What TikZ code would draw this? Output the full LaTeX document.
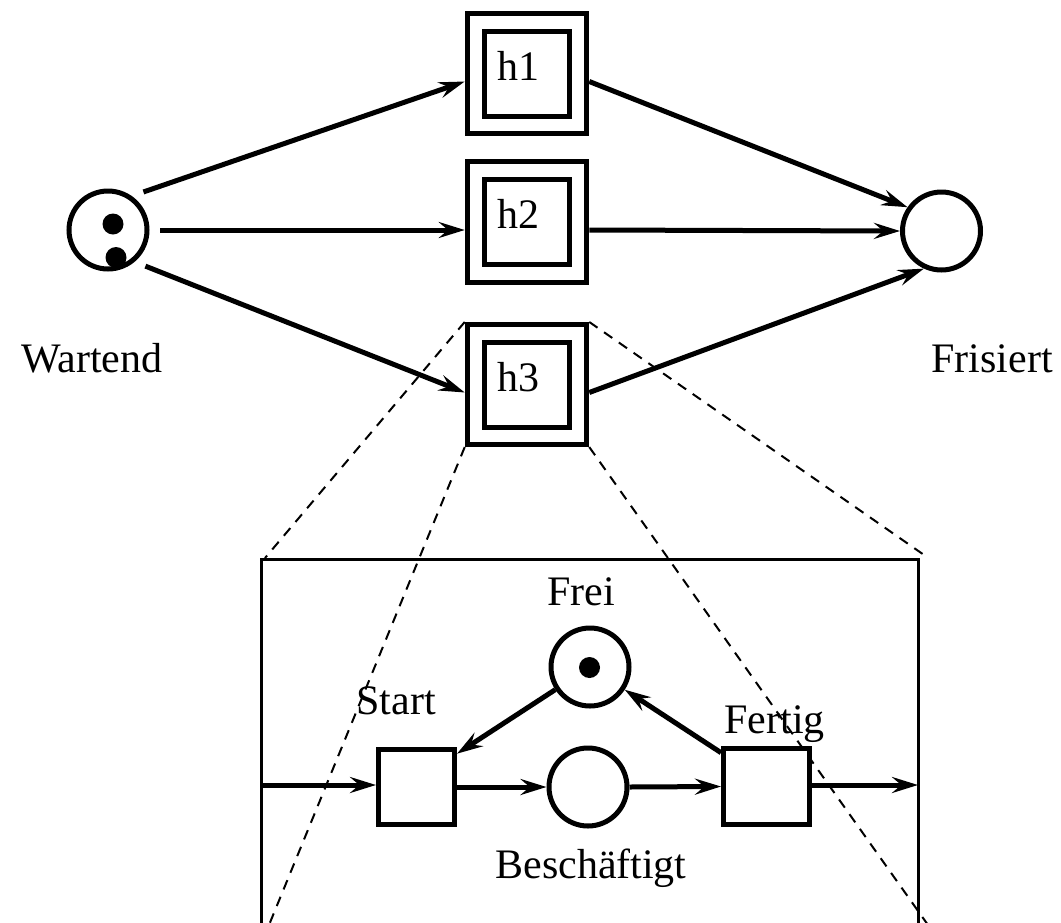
\documentclass[tikz,border=0pt]{standalone}
\usepackage{fontspec}
\setmainfont{Liberation Serif}
\usetikzlibrary{arrows.meta}

\begin{document}
\begin{tikzpicture}[x=0.75pt,y=0.75pt,yscale=-1,xscale=1,
  every node/.style={font=\fontsize{31.5}{36}\selectfont},
  place/.style={draw,circle,line width=3.75pt,inner sep=0pt,minimum size=58.5pt},
  trans/.style={draw,rectangle,line width=3.75pt,inner sep=0pt},
  hbox/.style={draw,rectangle,line width=3.75pt,double,double distance=9.4pt,
    inner xsep=15.75pt,inner ysep=0pt,text width=45pt,align=left,
    text height=43.5pt,text depth=33.4pt,outer sep=8.45pt},
  arc/.style={line width=3.75pt,-{Stealth[length=19.5pt,width=12pt,inset=7pt]}},
  zoomline/.style={line width=1.5pt,dash pattern=on 7.5pt off 6pt}]
\useasboundingbox (0,0) rectangle (1061,922);

%Places and transitions of the top net
\node [place,outer sep=9.75pt] (W) at (108,230) {};
\fill (113,224) circle (10.5);
\fill (116,257.5) circle (10.5);
\node [place] (F) at (941.5,231) {};
\node [hbox] (h1) at (527,73.5) {h1};
\node [hbox] (h2) at (527,222) {h2};
\node [hbox] (h3) at (527,384.5) {h3};

% Text Node
\node [anchor=base] (wlab) at (92,372) {Wartend};
% Text Node
\node [anchor=base] (flab) at (992,372) {Frisiert};

%Arcs of the top net
\draw [arc] (W.47) -- ([yshift=6pt]h1.west);
\draw [arc] (W.0) -- ([yshift=6pt]h2.west);
\draw [arc] (W.-44) -- ([yshift=6pt]h3.west);
\draw [arc] ([yshift=6pt]h1.east) -- (F.145);
\draw [arc] ([yshift=6pt]h2.east) -- (F.180);
\draw [arc] ([yshift=6pt]h3.east) -- (F.245);

%Refinement of h3
\coordinate (zTL) at (265,558);
\coordinate (zTR) at (927,557);
\coordinate (zBL) at (269,925);
\coordinate (zBR) at (928,925);
\draw [line width=2.25pt] (261.5,925) -- (261.5,559.5) -- (918,559.5) -- (918,925);
\draw [zoomline] (h3.north west) -- (zTL);
\draw [zoomline] (h3.south west) -- (zBL);
\draw [zoomline] (h3.north east) -- (zTR);
\draw [zoomline] (h3.south east) -- (zBR);

\node [trans,minimum width=57pt,minimum height=56.25pt] (Start) at (416.5,787) {};
\node [place] (Frei) at (590,667) {};
\fill (589.5,667.5) circle (10.5);
\node [place] (Besch) at (588,787) {};
\node [trans,minimum width=64.5pt,minimum height=57pt] (Fertig) at (766.5,786.5) {};
\coordinate (in) at (261.5,785);
\coordinate (out) at (918,785);

% Text Node
\node [anchor=base] (freilab) at (581,605) {Frei};
% Text Node
\node [anchor=base] (startlab) at (396,714) {Start};
% Text Node
\node [anchor=base] (fertiglab) at (774.5,733) {Fertig};
% Text Node
\node [anchor=base] (beschlab) at (591,878) {Beschäftigt};

\draw [arc] (in) -- (in -| Start.west);
\draw [arc] (Start.east) -- (Besch.west);
\draw [arc] (Besch.east) -- (Fertig.west);
\draw [arc] (Fertig.east |- out) -- (out);
\draw [arc] (Frei) -- ([yshift=5pt]Start.north east);
\draw [arc] ([yshift=5pt]Fertig.north west) -- (Frei);

\end{tikzpicture}
\end{document}
